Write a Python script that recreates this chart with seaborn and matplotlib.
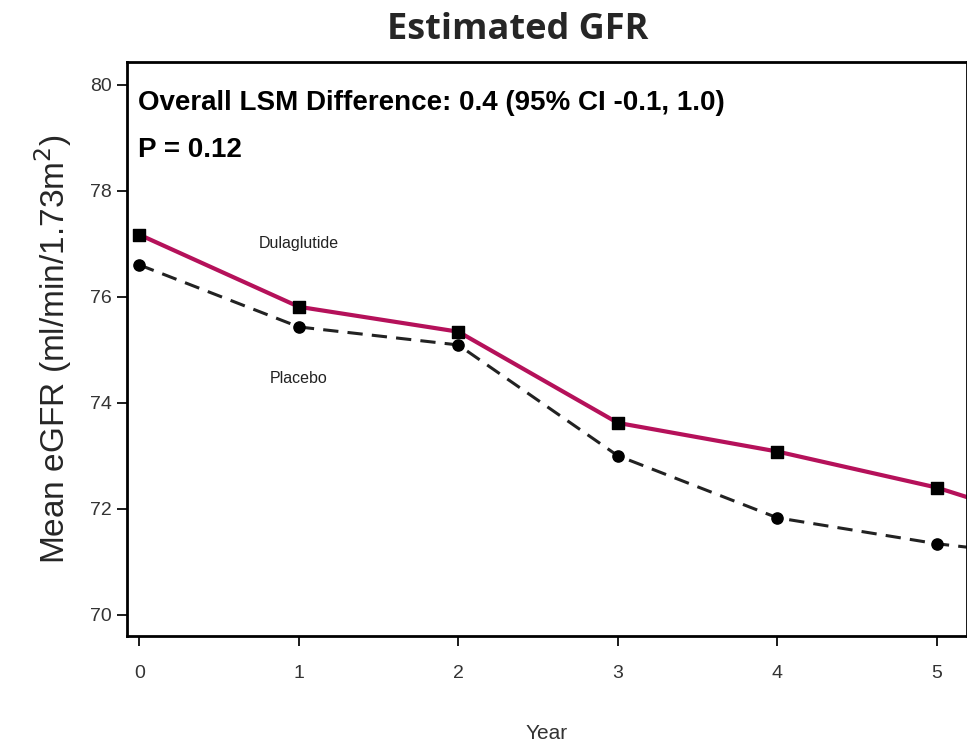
import numpy as np
import pandas as pd
import matplotlib
matplotlib.use('Agg')
import matplotlib.pyplot as plt
import seaborn as sns

years = [0, 1, 2, 3, 4, 5, 6]
dulaglutide = [77.17, 75.81, 75.34, 73.62, 73.08, 72.40, 71.45]
placebo = [76.60, 75.43, 75.09, 73.00, 71.83, 71.34, 71.00]
yticks = [70, 72, 74, 76, 78, 80]

sns.set_theme(style='white')
plt.rcParams['font.family'] = ['Liberation Sans', 'DejaVu Sans']

fig = plt.figure(figsize=(9.67, 7.46), dpi=100)
ax = fig.add_axes([0.131, 0.1475, 0.869, 0.7695])

df = pd.DataFrame({'year': years, 'Dulaglutide': dulaglutide, 'Placebo': placebo})
sns.lineplot(data=df, x='year', y='Dulaglutide', ax=ax, color='#b5115a', lw=3, zorder=2)
sns.lineplot(data=df, x='year', y='Placebo', ax=ax, color='#222222', lw=2.2,
             linestyle=(0, (5, 3)), zorder=2)
ax.scatter(years, dulaglutide, marker='s', s=70, color='black', zorder=3)
ax.scatter(years, placebo, marker='o', s=65, color='black', zorder=3)

ax.set_xlim(-0.08, 5.19)
ax.set_ylim(69.6, 80.43)
ax.set_xticks([0, 1, 2, 3, 4, 5])
ax.set_yticks(yticks)
ax.tick_params(axis='both', labelsize=14, length=7, color='black', direction='out',
               bottom=True, left=True, labelcolor='#333333')
ax.tick_params(axis='x', pad=14)
for s in ax.spines.values():
    s.set_color('black')
    s.set_linewidth(2)

ax.set_xlabel('Year', fontsize=15, labelpad=30, color='#333333')
ax.set_ylabel('Mean eGFR (ml/min/1.73m$^2$)', fontsize=24, labelpad=12)

ax.text(1.0, 77.0, 'Dulaglutide', fontsize=11.5, ha='center', va='center', color='#222222')
ax.text(1.0, 74.45, 'Placebo', fontsize=11.5, ha='center', va='center', color='#222222')
ax.text(-0.01, 79.66, 'Overall LSM Difference: 0.4 (95% CI -0.1, 1.0)', fontsize=20,
        fontweight='bold', va='center', color='black')
ax.text(-0.01, 78.77, 'P = 0.12', fontsize=20, fontweight='bold', va='center', color='black')

fig.text(0.535, 0.96, 'Estimated GFR', fontsize=26, fontweight='bold', ha='center',
         va='center', family=['Open Sans', 'DejaVu Sans'])

fig.savefig('out.png', dpi=100)
